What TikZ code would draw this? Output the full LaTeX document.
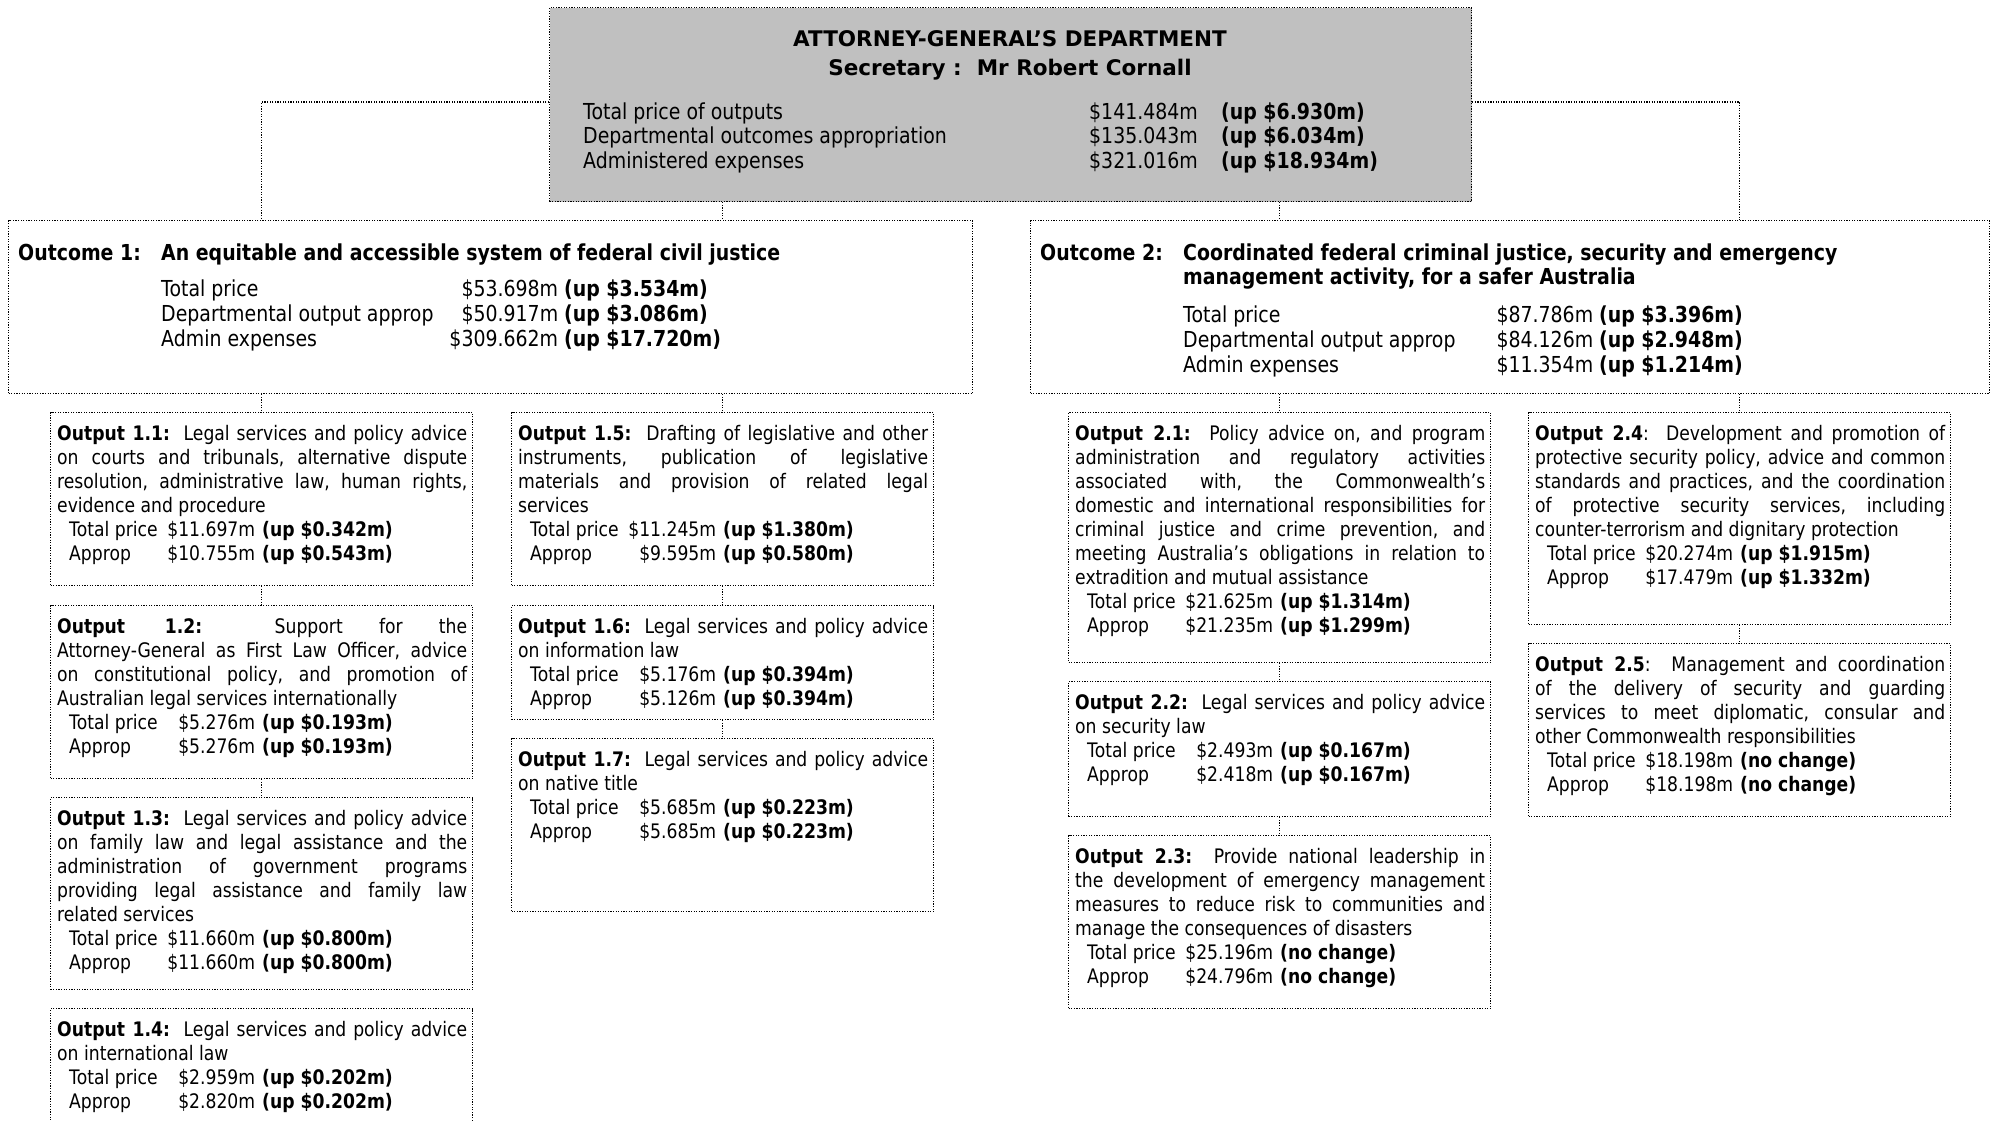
\documentclass[tikz,border=0pt]{standalone}
\usepackage{fontspec}
\setmainfont{DejaVu Sans}[FakeStretch=0.86]
\newfontfamily\wfont{DejaVu Sans}
\definecolor{boxgray}{RGB}{192,192,192}
\tikzset{
  dotline/.style={line width=1.2pt, dash pattern=on 1.2pt off 1.4pt, draw=black},
  conn/.style={dotline},
  obox/.style={dotline, anchor=north west, minimum width=422pt, inner sep=0pt},
  otext/.style={anchor=base west, inner sep=0pt},
  tx/.style={anchor=base west, inner sep=0pt},
}
\newcommand\bigtxt{\fontsize{22}{25}\selectfont}
\newcommand\ttltxt{\wfont\bfseries\fontsize{21.5}{26}\selectfont}
\newcommand\parafmt{\fontsize{20}{24}\selectfont\frenchspacing\tolerance=10000\hyphenpenalty=10000\exhyphenpenalty=10000\parindent=0pt}
\newcommand\prow[3]{\hbox{\kern12pt\rlap{#1}\kern186pt\llap{#2}\kern7pt\textbf{#3}}}
\newcommand\orow[5]{\rlap{#3}\kern#1pt\llap{#4}\kern#2pt\textbf{#5}}
\newcommand\trow[3]{\rlap{#1}\kern506pt\rlap{#2}\kern132pt\textbf{#3}}
\newcommand\outbox[7]{%
  \node[obox, minimum height=#4] (#1) at (#2,#3) {};
  \node[otext] (#1t) at (#2+7,#3+28) {\begin{minipage}[t]{410pt}\parafmt #5\par #6#7\end{minipage}};
}
\begin{document}
\begin{tikzpicture}[x=1pt,y=-1pt]
\useasboundingbox (0,0) rectangle (1993,1120);
\clip (0,0) rectangle (1993,1120);

% top box
\node[dotline, fill=boxgray, anchor=north west, minimum width=922pt, minimum height=194pt, inner sep=0pt] (top) at (549,7) {};
\node[anchor=base, inner sep=0pt] (ttl) at (1010,46) {\ttltxt ATTORNEY-GENERAL’S DEPARTMENT};
\node[anchor=base, inner sep=0pt] (sec) at (1010,75) {\ttltxt Secretary :\ \ Mr Robert Cornall};
\node[tx] (tr1) at (583,119) {\bigtxt\trow{Total price of outputs}{\$141.484m}{(up \$6.930m)}};
\node[tx] (tr2) at (583,143.5) {\bigtxt\trow{Departmental outcomes appropriation}{\$135.043m}{(up \$6.034m)}};
\node[tx] (tr3) at (583,168) {\bigtxt\trow{Administered expenses}{\$321.016m}{(up \$18.934m)}};

% outcome 1
\node[dotline, anchor=north west, minimum width=964pt, minimum height=173pt, inner sep=0pt] (out1) at (8,220) {};
\node[tx] (oc1l) at (18,260) {\bigtxt\bfseries Outcome 1:};
\node[tx] (oc1t) at (161,260) {\bigtxt\bfseries An equitable and accessible system of federal civil justice};
\node[tx] (oc1r1) at (161,296) {\bigtxt\orow{397}{6}{Total price}{\$53.698m}{(up \$3.534m)}};
\node[tx] (oc1r2) at (161,321) {\bigtxt\orow{397}{6}{Departmental output approp}{\$50.917m}{(up \$3.086m)}};
\node[tx] (oc1r3) at (161,346) {\bigtxt\orow{397}{6}{Admin expenses}{\$309.662m}{(up \$17.720m)}};

% outcome 2
\node[dotline, anchor=north west, minimum width=959pt, minimum height=173pt, inner sep=0pt] (out2) at (1030,220) {};
\node[tx] (oc2l) at (1040,260) {\bigtxt\bfseries Outcome 2:};
\node[tx] (oc2t1) at (1183,260) {\bigtxt\bfseries Coordinated federal criminal justice, security and emergency};
\node[tx] (oc2t2) at (1183,284) {\bigtxt\bfseries management activity, for a safer Australia};
\node[tx] (oc2r1) at (1183,322) {\bigtxt\orow{410}{6}{Total price}{\$87.786m}{(up \$3.396m)}};
\node[tx] (oc2r2) at (1183,347) {\bigtxt\orow{410}{6}{Departmental output approp}{\$84.126m}{(up \$2.948m)}};
\node[tx] (oc2r3) at (1183,372) {\bigtxt\orow{410}{6}{Admin expenses}{\$11.354m}{(up \$1.214m)}};

% column 1
\outbox{o11}{50}{412}{173}{\textbf{Output 1.1:}\ \ Legal services and policy advice\linebreak on courts and tribunals, alternative dispute\linebreak resolution, administrative law, human rights,\linebreak evidence and procedure}{\prow{Total price}{\$11.697m}{(up \$0.342m)}}{\prow{Approp}{\$10.755m}{(up \$0.543m)}}
\outbox{o12}{50}{605}{173}{\textbf{Output 1.2:}\ \ Support for the\linebreak Attorney-General as First Law Officer, advice\linebreak on constitutional policy, and promotion of\linebreak Australian legal services internationally}{\prow{Total price}{\$5.276m}{(up \$0.193m)}}{\prow{Approp}{\$5.276m}{(up \$0.193m)}}
\outbox{o13}{50}{797}{192}{\textbf{Output 1.3:}\ \ Legal services and policy advice\linebreak on family law and legal assistance and the\linebreak administration of government programs\linebreak providing legal assistance and family law\linebreak related services}{\prow{Total price}{\$11.660m}{(up \$0.800m)}}{\prow{Approp}{\$11.660m}{(up \$0.800m)}}
\outbox{o14}{50}{1008}{140}{\textbf{Output 1.4:}\ \ Legal services and policy advice\linebreak on international law}{\prow{Total price}{\$2.959m}{(up \$0.202m)}}{\prow{Approp}{\$2.820m}{(up \$0.202m)}}

% column 2
\outbox{o15}{511}{412}{173}{\textbf{Output 1.5:}\ \ Drafting of legislative and other\linebreak instruments, publication of legislative\linebreak materials and provision of related legal\linebreak services}{\prow{Total price}{\$11.245m}{(up \$1.380m)}}{\prow{Approp}{\$9.595m}{(up \$0.580m)}}
\outbox{o16}{511}{605}{114}{\textbf{Output 1.6:}\ \ Legal services and policy advice\linebreak on information law}{\prow{Total price}{\$5.176m}{(up \$0.394m)}}{\prow{Approp}{\$5.126m}{(up \$0.394m)}}
\outbox{o17}{511}{738}{173}{\textbf{Output 1.7:}\ \ Legal services and policy advice\linebreak on native title}{\prow{Total price}{\$5.685m}{(up \$0.223m)}}{\prow{Approp}{\$5.685m}{(up \$0.223m)}}

% column 3
\outbox{o21}{1068}{412}{250}{\textbf{Output 2.1:}\ \ Policy advice on, and program\linebreak administration and regulatory activities\linebreak associated with, the Commonwealth’s\linebreak domestic and international responsibilities for\linebreak criminal justice and crime prevention, and\linebreak meeting Australia’s obligations in relation to\linebreak extradition and mutual assistance}{\prow{Total price}{\$21.625m}{(up \$1.314m)}}{\prow{Approp}{\$21.235m}{(up \$1.299m)}}
\outbox{o22}{1068}{681}{135}{\textbf{Output 2.2:}\ \ Legal services and policy advice\linebreak on security law}{\prow{Total price}{\$2.493m}{(up \$0.167m)}}{\prow{Approp}{\$2.418m}{(up \$0.167m)}}
\outbox{o23}{1068}{835}{173}{\textbf{Output 2.3:}\ \ Provide national leadership in\linebreak the development of emergency management\linebreak measures to reduce risk to communities and\linebreak manage the consequences of disasters}{\prow{Total price}{\$25.196m}{(no change)}}{\prow{Approp}{\$24.796m}{(no change)}}

% column 4
\outbox{o24}{1528}{412}{212}{\textbf{Output 2.4}:\ \ Development and promotion of\linebreak protective security policy, advice and common\linebreak standards and practices, and the coordination\linebreak of protective security services, including\linebreak counter-terrorism and dignitary protection}{\prow{Total price}{\$20.274m}{(up \$1.915m)}}{\prow{Approp}{\$17.479m}{(up \$1.332m)}}
\outbox{o25}{1528}{643}{173}{\textbf{Output 2.5}:\ \ Management and coordination\linebreak of the delivery of security and guarding\linebreak services to meet diplomatic, consular and\linebreak other Commonwealth responsibilities}{\prow{Total price}{\$18.198m}{(no change)}}{\prow{Approp}{\$18.198m}{(no change)}}

% connectors
\coordinate (lj) at (0,102);
\draw[conn] (top.west |- lj) -| (out1.north -| o11.north);
\draw[conn] (top.east |- lj) -| (out2.north -| o24.north);
\draw[conn] (top.south -| o15.north) -- (out1.north -| o15.north);
\draw[conn] (top.south -| o21.north) -- (out2.north -| o21.north);
\draw[conn] (out1.south -| o11.north) -- (o11.north);
\draw[conn] (out1.south -| o15.north) -- (o15.north);
\draw[conn] (out2.south -| o21.north) -- (o21.north);
\draw[conn] (out2.south -| o24.north) -- (o24.north);
\draw[conn] (o11.south) -- (o12.north);
\draw[conn] (o12.south) -- (o13.north);
\draw[conn] (o15.south) -- (o16.north);
\draw[conn] (o16.south) -- (o17.north);
\draw[conn] (o21.south) -- (o22.north);
\draw[conn] (o22.south) -- (o23.north);
\draw[conn] (o24.south) -- (o25.north);
\end{tikzpicture}
\end{document}
